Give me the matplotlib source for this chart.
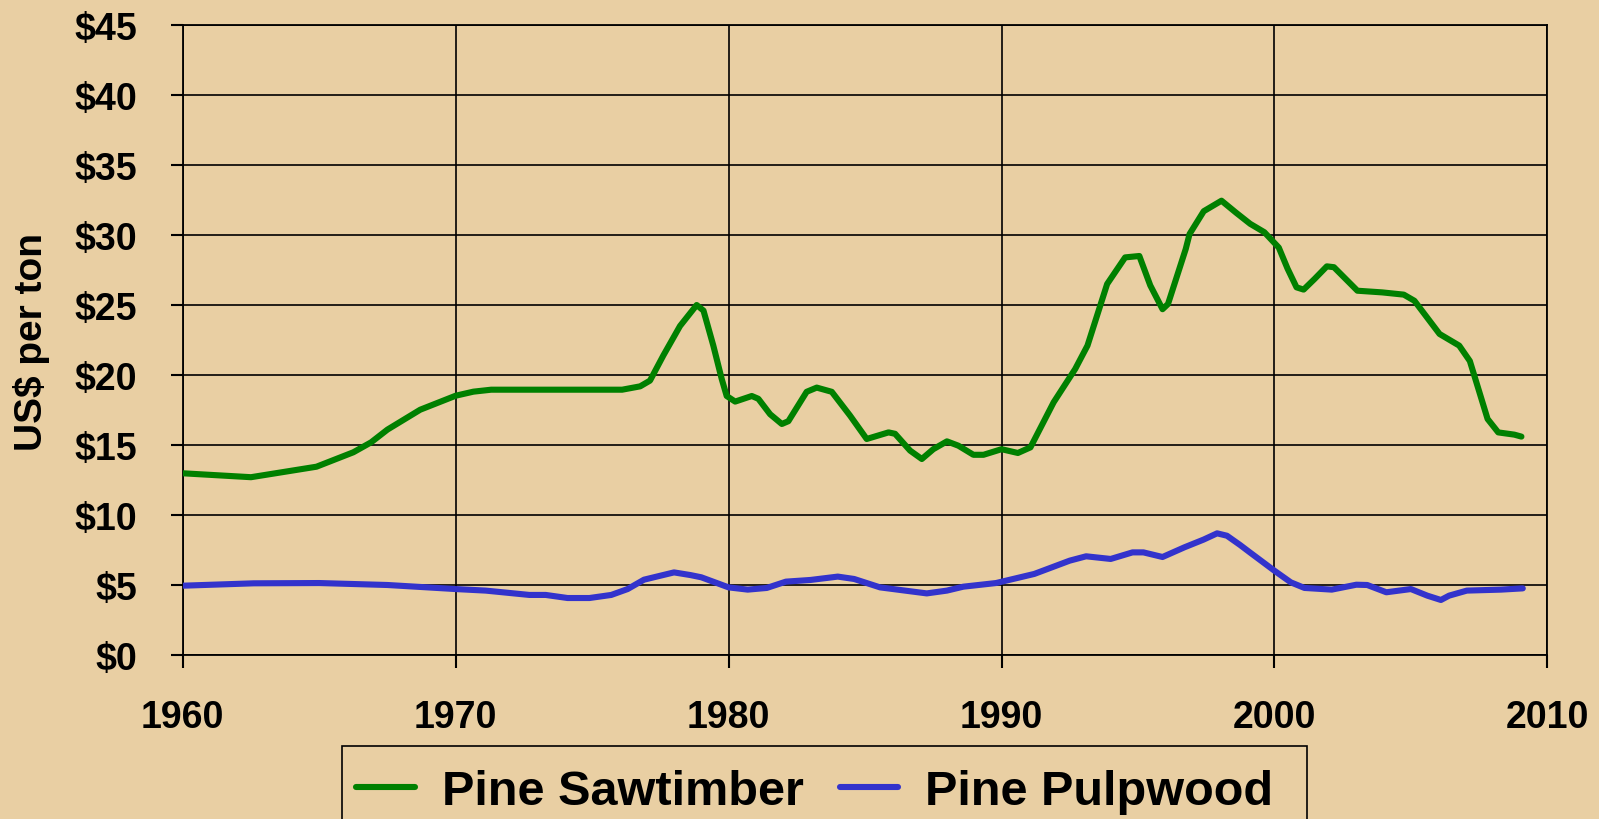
import matplotlib
matplotlib.use('Agg')
from matplotlib import pyplot as plt
from matplotlib.patches import Rectangle

plt.rcParams['font.family'] = ['Liberation Sans', 'DejaVu Sans']
plt.rcParams['font.weight'] = 'bold'

# Pine Sawtimber (US$ per ton)
saw_years = [1960.0, 1962.5, 1964.9, 1966.25, 1966.9, 1967.5, 1968.7, 1970.0, 1970.65, 1971.3,
             1973.5, 1976.1, 1976.76, 1977.12, 1977.61, 1978.22, 1978.83, 1979.08, 1979.44, 1979.75,
             1979.93, 1980.24, 1980.85, 1981.09, 1981.52, 1981.95, 1982.19, 1982.86, 1983.23, 1983.78,
             1984.45, 1985.06, 1985.86, 1986.1, 1986.65, 1987.08, 1987.5, 1988.0, 1988.42, 1988.97,
             1989.34, 1990.0, 1990.6, 1991.06, 1991.91, 1992.7, 1993.15, 1993.87, 1994.53, 1995.05,
             1995.45, 1995.9, 1996.1, 1996.75, 1996.89, 1997.41, 1998.06, 1998.59, 1999.11, 1999.63,
             2000.16, 2000.48, 2000.81, 2001.07, 2001.47, 2001.92, 2002.18, 2003.04, 2003.95, 2004.74,
             2005.13, 2006.05, 2006.77, 2007.16, 2007.49, 2007.81, 2008.2, 2008.79, 2009.05]
saw_vals = [12.98, 12.70, 13.45, 14.48, 15.19, 16.1, 17.52, 18.52, 18.81, 18.95,
            18.95, 18.95, 19.19, 19.6, 21.4, 23.5, 25.0, 24.6, 22.1, 19.7,
            18.5, 18.1, 18.5, 18.3, 17.2, 16.5, 16.7, 18.8, 19.1, 18.8,
            17.1, 15.43, 15.9, 15.8, 14.6, 14.0, 14.7, 15.26, 14.95, 14.3,
            14.3, 14.7, 14.43, 14.83, 18.05, 20.43, 22.1, 26.5, 28.4, 28.5,
            26.4, 24.7, 25.07, 29.0, 30.07, 31.7, 32.45, 31.6, 30.8, 30.2,
            29.1, 27.6, 26.26, 26.1, 26.86, 27.76, 27.7, 26.02, 25.9, 25.74,
            25.3, 22.93, 22.1, 21.0, 18.9, 16.86, 15.9, 15.74, 15.6]

# Pine Pulpwood (US$ per ton)
pulp_years = [1960.0, 1962.6, 1965.0, 1967.5, 1970.0, 1971.1, 1972.7, 1973.3, 1974.1, 1974.9,
              1975.7, 1976.3, 1976.9, 1978.0, 1978.6, 1979.0, 1980.0, 1980.7, 1981.4, 1982.1,
              1983.0, 1984.0, 1984.6, 1985.55, 1987.26, 1988.0, 1988.6, 1989.8, 1991.2, 1992.5,
              1993.1, 1994.0, 1994.8, 1995.2, 1995.9, 1996.7, 1997.4, 1997.9, 1998.26, 1998.74,
              1999.1, 2000.0, 2000.6, 2001.1, 2002.1, 2003.0, 2003.4, 2004.1, 2005.0, 2005.6,
              2006.1, 2006.4, 2007.05, 2008.3, 2009.1]
pulp_vals = [4.95, 5.12, 5.14, 5.0, 4.71, 4.6, 4.29, 4.29, 4.07, 4.07,
             4.29, 4.71, 5.38, 5.9, 5.71, 5.55, 4.83, 4.67, 4.79, 5.24,
             5.36, 5.6, 5.43, 4.83, 4.4, 4.6, 4.88, 5.14, 5.79, 6.74,
             7.05, 6.86, 7.33, 7.33, 7.0, 7.69, 8.24, 8.69, 8.52, 7.86,
             7.33, 6.02, 5.19, 4.79, 4.67, 5.02, 5.0, 4.48, 4.71, 4.24,
             3.93, 4.24, 4.6, 4.67, 4.76]

x_ticks = [1960, 1970, 1980, 1990, 2000, 2010]
y_ticks = [0, 5, 10, 15, 20, 25, 30, 35, 40, 45]

bg = '#e9cfa3'
fig = plt.figure(figsize=(15.99, 8.2), dpi=100, facecolor=bg)
ax = fig.add_axes([0.1143, 0.2, 0.8534, 0.7683])
ax.set_facecolor(bg)

ax.plot(saw_years, saw_vals, color='#008000', lw=4.4, solid_capstyle='round',
        solid_joinstyle='round', label='Pine Sawtimber', zorder=3)
ax.plot(pulp_years, pulp_vals, color='#3333cc', lw=4.4, solid_capstyle='round',
        solid_joinstyle='round', label='Pine Pulpwood', zorder=3)

ax.set_xlim(1960, 2010)
ax.set_ylim(0, 45)
ax.set_xticks(x_ticks)
ax.set_yticks(y_ticks)
ax.set_yticklabels(['$%d' % v for v in y_ticks])
ax.grid(True, color='black', lw=1.2)
ax.set_axisbelow(True)
for s in ax.spines.values():
    s.set_color('black')
    s.set_linewidth(1.3)
ax.tick_params(axis='both', direction='out', length=9, width=1.5, colors='black',
               labelsize=27)
ax.tick_params(axis='x', pad=23)
ax.tick_params(axis='y', pad=24)
for t in ax.get_xticklabels() + ax.get_yticklabels():
    t.set_fontweight('bold')

ax.set_ylabel('US$ per ton', fontsize=28, fontweight='bold', labelpad=0)
ax.yaxis.set_label_coords(-0.097, 0.498)

# legend box drawn separately so it can run off the bottom edge like the original
fig.patches.append(Rectangle((341.5 / 1599, -0.05), (1307 - 341.5) / 1599, 0.05 + (820 - 747) / 820,
                             transform=fig.transFigure, fill=False, edgecolor='black', lw=1.2))
leg = fig.legend(loc='upper center', bbox_to_anchor=(0.5095, 0.082), ncol=2,
                 prop={'size': 35, 'weight': 'bold'}, frameon=False,
                 handlelength=1.2, handletextpad=0.55, columnspacing=0.75,
                 borderpad=0.35, borderaxespad=0)

fig.savefig('out.png', dpi=100, facecolor=bg)
